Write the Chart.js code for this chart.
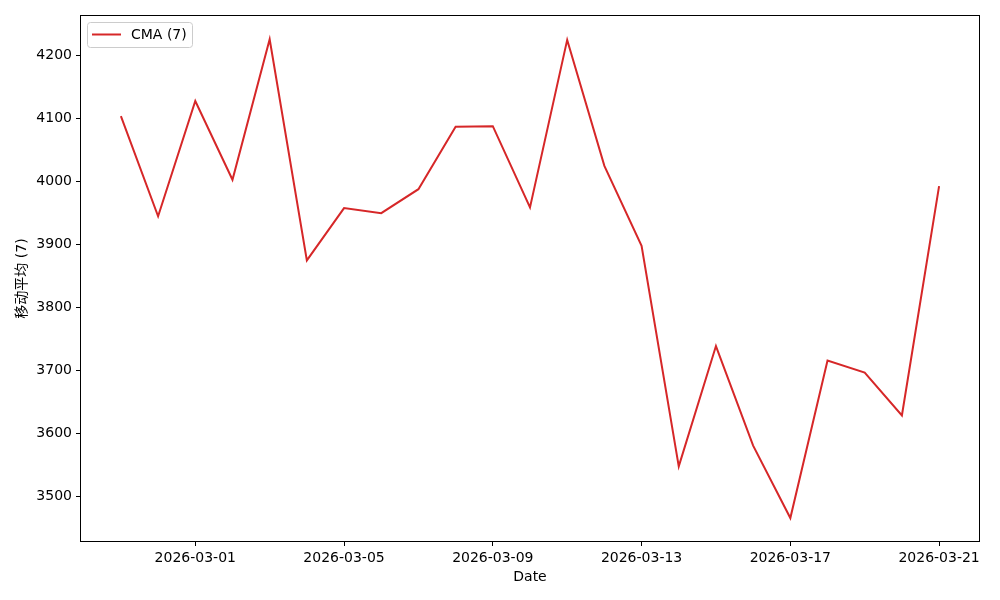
<!DOCTYPE html>
<html>
<head>
<meta charset="utf-8">
<script src="https://cdn.jsdelivr.net/npm/chart.js@4.4.1/dist/chart.umd.min.js"></script>
<style>
  html, body { margin: 0; padding: 0; background: #fff; }
  #wrap { width: 1000px; height: 600px; }
</style>
</head>
<body>
<div id="wrap"><canvas id="cmaChart" width="1000" height="600"></canvas></div>
<script>
// 날짜 (2026-02-27 ~ 2026-03-21)
const dates = [
  "2026-02-27","2026-02-28","2026-03-01","2026-03-02","2026-03-03","2026-03-04",
  "2026-03-05","2026-03-06","2026-03-07","2026-03-08","2026-03-09","2026-03-10",
  "2026-03-11","2026-03-12","2026-03-13","2026-03-14","2026-03-15","2026-03-16",
  "2026-03-17","2026-03-18","2026-03-19","2026-03-20","2026-03-21"
];
const cmaValues = [
  4103, 3944, 4127, 4002, 4225, 3874,
  3957, 3949, 3987, 4086, 4087, 3958,
  4224, 4024, 3897, 3547, 3738, 3580,
  3465, 3715, 3696, 3628, 3992
];
const xTickDates = ["2026-03-01","2026-03-05","2026-03-09","2026-03-13","2026-03-17","2026-03-21"];
const yTicks = [3500, 3600, 3700, 3800, 3900, 4000, 4100, 4200];

const seriesLabel = "CMA (7)";
const yTitle = "移动平均 (7)";
const xTitle = "Date";

// 날짜 -> 일 단위 숫자
const DAY = 86400000;
const base = Date.parse(dates[0]);
const toDay = d => Math.round((Date.parse(d) - base) / DAY);
const fromDay = n => new Date(base + n * DAY).toISOString().slice(0, 10);

const points = dates.map((d, i) => ({ x: toDay(d), y: cmaValues[i] }));

const font = { family: "DejaVu Sans, 'Noto Sans CJK SC', sans-serif", size: 14 };

// 테두리 + 범례 박스
const framePlugin = {
  id: 'frame',
  afterDraw(chart) {
    const { ctx, chartArea: a } = chart;
    ctx.save();
    ctx.strokeStyle = '#000';
    ctx.lineWidth = 1;
    ctx.strokeRect(a.left + 0.5, a.top + 0.5, a.right - a.left - 1, a.bottom - a.top - 1);

    // legend
    const bx = a.left + 7, by = a.top + 7, bw = 105, bh = 25;
    ctx.beginPath();
    ctx.roundRect(bx + 0.5, by + 0.5, bw, bh, 3);
    ctx.fillStyle = 'rgba(255,255,255,0.8)';
    ctx.fill();
    ctx.strokeStyle = '#cccccc';
    ctx.stroke();
    const ds = chart.data.datasets[0];
    ctx.beginPath();
    ctx.moveTo(bx + 5, by + 12.5);
    ctx.lineTo(bx + 34, by + 12.5);
    ctx.strokeStyle = ds.borderColor;
    ctx.lineWidth = 2;
    ctx.stroke();
    ctx.fillStyle = '#000';
    ctx.font = font.size + "px " + font.family;
    ctx.textBaseline = 'middle';
    ctx.fillText(ds.label, bx + 44, by + 13);
    ctx.restore();
  }
};

const config = {
  type: 'line',
  data: {
    datasets: [{
      label: seriesLabel,
      data: points,
      borderColor: '#d62728',
      borderWidth: 2,
      pointRadius: 0,
      tension: 0,
      fill: false
    }]
  },
  options: {
    responsive: false,
    animation: false,
    layout: { padding: { top: 15, right: 20, left: 0, bottom: 0 } },
    plugins: {
      legend: { display: false },
      tooltip: { enabled: false }
    },
    scales: {
      x: {
        type: 'linear',
        min: -1.1,
        max: dates.length - 1 + 1.1,
        afterBuildTicks: s => { s.ticks = xTickDates.map(d => ({ value: toDay(d) })); },
        afterFit: s => { s.height = 58; },
        ticks: {
          color: '#000', font: font, padding: 4, maxRotation: 0,
          callback: v => fromDay(v)
        },
        grid: { drawOnChartArea: false, drawTicks: true, tickLength: 4, color: '#000' },
        border: { display: false },
        title: { display: true, text: xTitle, color: '#000', font: font, padding: { top: 2, bottom: 14 } }
      },
      y: {
        min: 3427,
        max: 4263.5,
        afterBuildTicks: s => { s.ticks = yTicks.map(v => ({ value: v })); },
        afterFit: s => { s.width = 80; },
        ticks: { color: '#000', font: font, padding: 4, callback: v => String(v) },
        grid: { drawOnChartArea: false, drawTicks: true, tickLength: 4, color: '#000' },
        border: { display: false },
        title: { display: true, text: yTitle, color: '#000', font: font, padding: { top: 14, bottom: 0 } }
      }
    }
  },
  plugins: [framePlugin]
};

const chart = new Chart(document.getElementById('cmaChart').getContext('2d'), config);
</script>
</body>
</html>
